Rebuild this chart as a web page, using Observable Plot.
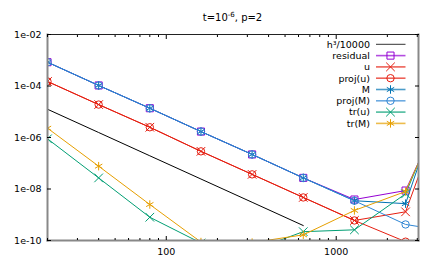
<!DOCTYPE html>
<html>
<head>
<meta charset="utf-8">
<script src="https://cdn.jsdelivr.net/npm/d3@7"></script>
<script src="https://cdn.jsdelivr.net/npm/@observablehq/plot@0.6"></script>
<style>
  body { margin: 0; background: #fff; }
  #wrap { position: relative; width: 436px; height: 262px; font-family: "DejaVu Sans", sans-serif; }
  #title { height: 26px; box-sizing: border-box; padding-top: 12px; line-height: 12px; font-size: 10px; text-align: center; padding-left: 29px; color: #000; }
  #title sup { font-size: 7px; vertical-align: 4px; line-height: 0; }
  #legend { position: absolute; left: 290px; top: 34px; }
</style>
</head>
<body>
<div id="wrap">
  <div id="title">t=10<sup>-6</sup>, p=2</div>
  <div id="chart"></div>
  <div id="legend"></div>
</div>
<script>
// ---- data ----
const N = [20, 40, 80, 160, 320, 640, 1280, 2560, 5120];
const h3 = [1.25e-5, 1.5625e-6, 1.95e-7, 2.44e-8, 3.05e-9, 3.81e-10];
const residual = [8.4e-4, 1.05e-4, 1.37e-5, 1.7e-6, 2.2e-7, 2.7e-8, 3.9e-9, 8.7e-9, 1.9e-4];
const uErr = [1.5e-4, 1.9e-5, 2.5e-6, 2.9e-7, 3.7e-8, 4.7e-9, 6.0e-10, 1.3e-9, 3.6e-4];
const projU = [1.5e-4, 1.9e-5, 2.5e-6, 2.9e-7, 3.7e-8, 4.7e-9, 6.0e-10, 9e-11, 1.5e-11];
const MErr = [8.4e-4, 1.05e-4, 1.37e-5, 1.7e-6, 2.2e-7, 2.7e-8, 3.5e-9, 2.7e-9, 2e-3];
const projM = [8.4e-4, 1.05e-4, 1.37e-5, 1.7e-6, 2.2e-7, 2.7e-8, 3.5e-9, 4.2e-10, 2e-10];
const trU = [8.9e-7, 2.7e-8, 8e-10, 8e-11, 4.1e-11, 2.2e-10, 2.6e-10, 6.5e-9, 3.7e-4];
const trM = [2.3e-6, 7.7e-8, 2.5e-9, 8.7e-11, 8.3e-11, 1.66e-10, 1.47e-9, 8e-9, 2e-4];

const seriesNames = ["h³/10000", "residual", "u", "proj(u)", "M", "proj(M)", "tr(u)", "tr(M)"];
const seriesValues = [h3, residual, uErr, projU, MErr, projM, trU, trM];
const seriesColors = ["#000000", "#9400d3", "#e51e10", "#e51e10", "#0072b2", "#2f86d4", "#009e73", "#e69f00"];
const seriesSymbols = [null, "square", "times", "circle", "asterisk", "circle", "times", "asterisk"];

const xMajor = [100, 1000];
const xMinor = [20, 30, 40, 50, 60, 70, 80, 90, 200, 300, 400, 500, 600, 700, 800, 900, 2000, 3000];
const yMajor = [1e-2, 1e-4, 1e-6, 1e-8, 1e-10];

const rows = [];
seriesValues.forEach((vals, s) => vals.forEach((v, i) => rows.push({series: seriesNames[s], n: N[i], v})));

const yFmt = d => "1e-" + String(Math.round(-Math.log10(d))).padStart(2, "0");

const marks = [];
seriesNames.forEach((name, s) => {
  const data = rows.filter(r => r.series === name);
  marks.push(Plot.line(data, {x: "n", y: "v", stroke: seriesColors[s], strokeWidth: 1, clip: true}));
  if (seriesSymbols[s]) {
    marks.push(Plot.dot(data, {x: "n", y: "v", stroke: seriesColors[s], fill: "none", strokeWidth: 1,
      symbol: () => seriesSymbols[s], r: seriesSymbols[s] === "circle" ? 3.7 : 4.0, clip: true}));
  }
});

const axStyle = {stroke: "#000", strokeOpacity: 1, strokeWidth: 1};
const chart = Plot.plot({
  width: 436, height: 236,
  marginTop: 8, marginBottom: 22, marginLeft: 47, marginRight: 18,
  style: {fontFamily: "DejaVu Sans", fontSize: "9.5px", color: "#000", background: "#fff"},
  x: {type: "log", domain: [20, 3050]},
  y: {type: "log", domain: [1e-10, 1e-2]},
  marks: [
    ...marks,
    Plot.frame({anchor: "left", stroke: "#888", strokeWidth: 2}),
    Plot.frame({anchor: "bottom", stroke: "#888", strokeWidth: 2}),
    Plot.frame({anchor: "right", stroke: "#888", strokeWidth: 2}),
    Plot.frame({anchor: "top", stroke: "#222", strokeWidth: 1}),
    Plot.axisX({anchor: "bottom", ticks: xMajor, tickSize: -4, tickPadding: 12, tickFormat: d => String(d), label: null, ...axStyle}),
    Plot.axisX({anchor: "bottom", ticks: xMinor, tickSize: -2, tickFormat: () => "", label: null, ...axStyle}),
    Plot.axisX({anchor: "top", ticks: xMajor, tickSize: -4, tickFormat: () => "", label: null, ...axStyle}),
    Plot.axisX({anchor: "top", ticks: xMinor, tickSize: -2, tickFormat: () => "", label: null, ...axStyle}),
    Plot.axisY({anchor: "left", ticks: yMajor, tickSize: -4, tickPadding: 10, tickFormat: yFmt, label: null, ...axStyle}),
    Plot.axisY({anchor: "right", ticks: yMajor, tickSize: -4, tickFormat: () => "", label: null, ...axStyle})
  ]
});
document.getElementById("chart").appendChild(chart);

// ---- legend ----
const lg = d3.select("#legend").append("svg").attr("width", 130).attr("height", 100)
  .style("font-family", "DejaVu Sans").style("font-size", "9.5px");
const symMap = {square: d3.symbolSquare, times: d3.symbolTimes, circle: d3.symbolCircle, asterisk: d3.symbolAsterisk};
seriesNames.forEach((name, i) => {
  const y = 10.3 + 11.3 * i;
  const g = lg.append("g");
  g.append("text").attr("x", 80).attr("y", y).attr("text-anchor", "end").attr("dy", "0.35em").text(name);
  g.append("line").attr("x1", 86).attr("x2", 115.5).attr("y1", y).attr("y2", y)
    .attr("stroke", seriesColors[i]).attr("stroke-width", i === 0 ? 1 : 1.6).attr("stroke-opacity", i === 0 ? 0.8 : 0.7);
  if (seriesSymbols[i]) {
    const r = seriesSymbols[i] === "circle" ? 3.7 : 4.0;
    g.append("path").attr("transform", `translate(100.5,${y})`)
      .attr("d", d3.symbol(symMap[seriesSymbols[i]], Math.PI * r * r)())
      .attr("fill", "none").attr("stroke", seriesColors[i]).attr("stroke-width", 1);
  }
});
</script>
</body>
</html>
